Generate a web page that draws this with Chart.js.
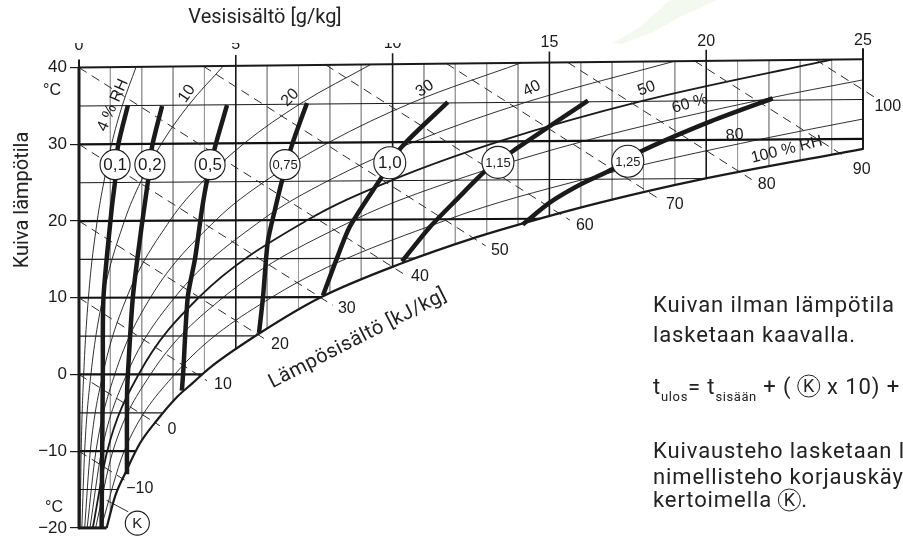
<!DOCTYPE html>
<html lang="fi">
<head>
<meta charset="utf-8">
<title>Kuivausteho</title>
<script src="https://cdn.jsdelivr.net/npm/chart.js@4.4.1/dist/chart.umd.min.js"></script>
<style>
  html, body { margin: 0; padding: 0; background: #fff; }
  #wrap { position: relative; width: 903px; height: 545px; }
</style>
</head>
<body>
<div id="wrap"><canvas id="mollier" width="903" height="545"></canvas></div>
<script>
// --- luettu kuvasta: vesisisältö x [g/kg], lämpötila y [°C] ---
const xTicks = [0, 5, 10, 15, 20, 25];
const yTicks = [-20, -10, 0, 10, 20, 30, 40];

// kyllästyskäyrä (100 % RH)
const satX = [0.88, 1.15, 1.47, 1.94, 2.48, 3.11, 3.63, 4.18, 5.77, 7.68, 10.23, 12.68, 14.16, 16.61, 19.8, 25];
const satY = [-20, -15.9, -12.9, -9.0, -6.0, -3.0, -1.1, 0.9, 5.4, 10.0, 14.4, 17.9, 19.7, 22.4, 25.4, 29.4];

// reunat
const topEdgeX = [0, 25];
const topEdgeY = [40, 41.1];
const rightEdgeY = [41.1, 29.4];

// pystyviivat 1 g/kg välein: yläpää ja alapää
const gridX = [1, 2, 3, 4, 5, 6, 7, 8, 9, 10, 11, 12, 13, 14, 15, 16, 17, 18, 19, 20, 21, 22, 23, 24];
const gridTop = [40.04, 40.09, 40.13, 40.18, 40.22, 40.26, 40.31, 40.35, 40.4, 40.44, 40.48, 40.53,
                 40.57, 40.62, 40.66, 40.7, 40.75, 40.79, 40.84, 40.88, 40.92, 40.97, 41.01, 41.06];
const gridBottom = [-18.2, -8.6, -3.5, 0.3, 3.3, 6.0, 8.5, 10.7, 12.3, 14.0, 15.5, 17.0,
                    18.3, 19.5, 20.6, 21.7, 22.8, 23.8, 24.7, 25.55, 26.4, 27.2, 27.9, 28.65];

// isotermit
const isoT = [-15, -10, -5, 0, 5, 10, 15, 20, 25, 30, 35];
const isoEndX = [1.25, 1.82, 2.69, 3.93, 5.64, 7.73, 10.75, 14.7, 20.0, 25, 25];
const isoEndY = [-15, -10, -5, 0, 5.03, 10.08, 15.17, 20.3, 25.55, 30.7, 35.85];

// suhteellinen kosteus
const rhLevels = [4, 10, 20, 30, 40, 50, 60, 80];
const rhX = [
  [0.035, 0.07, 0.15, 0.30, 0.58, 0.79, 1.04, 1.38, 1.82],
  [0.09, 0.18, 0.38, 0.76, 1.45, 1.96, 2.63, 3.5, 4.6],
  [0.18, 0.36, 0.76, 1.52, 2.9, 3.93, 5.28, 7.05, 9.3],
  [0.26, 0.54, 1.14, 2.28, 4.36, 5.92, 7.97, 10.6, 14.1],
  [0.35, 0.72, 1.52, 3.05, 5.83, 7.93, 10.7, 14.3, 19.0],
  [0.44, 0.9, 1.9, 3.82, 7.3, 9.95, 13.45, 18.0, 24.0],
  [0.53, 1.08, 2.28, 4.6, 8.8, 12.0, 16.2, 21.8, 25],
  [0.7, 1.44, 3.05, 6.15, 11.8, 16.1, 21.8, 25]
];
const rhY = [
  [-20, -10, 0, 10, 20, 25.02, 30.03, 35.05, 40.08],
  [-20, -10, 0, 10, 20.03, 25.05, 30.09, 35.13, 40.2],
  [-20, -10, 0, 10.02, 20.06, 25.1, 30.17, 35.27, 40.4],
  [-20, -10, 0, 10.03, 20.1, 25.16, 30.26, 35.4, 40.62],
  [-20, -10, 0, 10.03, 20.13, 25.22, 30.35, 35.55, 40.84],
  [-20, -10, 0, 10.04, 20.16, 25.27, 30.44, 35.7, 41.05],
  [-20, -10, 0, 10.05, 20.2, 25.33, 30.53, 35.84, 38.4],
  [-20, -10, 0, 10.07, 20.26, 25.44, 30.72, 33.3]
];
const rhNames = ['4 % RH', '10', '20', '30', '40', '50', '60 %', '80', '100 % RH'];

// entalpia [kJ/kg]
const hVals = [-10, 0, 10, 20, 30, 40, 50, 60, 70, 80, 90, 100];
const hStartX = [0, 0, 0, 0, 0, 0, 3.97, 7.87, 11.72, 15.58, 19.63, 23.49];
const hStartY = [-10, 0, 10, 20, 30, 40, 40.17, 40.35, 40.52, 40.69, 40.86, 41.03];
const hEndX = [1.47, 2.58, 4.08, 5.93, 8.1, 10.39, 12.97, 15.65, 18.52, 21.45, 24.48, 25.37];
const hEndY = [-13.8, -6.69, -0.81, 4.61, 9.0, 13.0, 16.76, 20.12, 22.83, 25.41, 28.26, 36.14];

// korjauskerroin K
const kNames = ['0,1', '0,2', '0,5', '0,75', '1,0', '1,15', '1,25'];
const kX = [
  [0.72, 0.76, 0.78, 1.04, 1.15, 1.24, 1.56],
  [1.53, 1.53, 1.56, 1.72, 2.01, 2.2, 2.33, 2.65],
  [3.28, 3.32, 3.47, 3.7, 3.92, 4.08, 4.34, 4.72],
  [5.74, 5.87, 6.02, 6.25, 6.47, 6.79, 7.27],
  [7.78, 8.22, 8.64, 9.6, 10.3, 11.76],
  [10.3, 11.19, 12.05, 12.94, 13.9, 16.23],
  [14.15, 15.01, 15.97, 17.02, 17.88, 20.02, 22.12]
];
const kY = [
  [-20, 0, 10, 21.5, 25.2, 29.7, 35.1],
  [-13, -3, 0.1, 10.2, 19.7, 25.2, 29.7, 35.0],
  [-2.1, 0.1, 10.15, 15.1, 21.5, 25.2, 29.7, 35.1],
  [5.4, 10.2, 17.3, 21.5, 25.2, 29.9, 35.4],
  [10.3, 15.1, 19.3, 25.4, 29.7, 35.5],
  [14.73, 19.21, 22.83, 26.45, 29.3, 35.7],
  [19.55, 22.39, 24.72, 26.79, 29.0, 32.8, 36.0]
];
const kCircleX = [1.15, 2.26, 4.18, 6.57, 9.91, 13.36, 17.5];
const kCircleY = [27.35, 27.35, 27.35, 27.35, 27.6, 27.65, 27.8];

// --- tekstien sijoittelu ---
const rhLabelPos = [
  [1.08, 35.1, -66], [3.44, 36.6, -55], [6.73, 36.1, -45], [11.03, 37.26, -33],
  [14.44, 37.26, -27], [18.1, 37.26, -20], [19.48, 35.3, -16], [20.91, 31.2, -6], [22.57, 29.3, -14]
];
const hLabelPos = [
  [1.94, -14.9], [2.96, -7.15], [4.59, -1.33], [6.41, 3.84], [8.54, 8.6], [10.87, 12.75],
  [13.42, 16.11], [16.13, 19.47], [19.0, 22.18], [21.93, 24.77], [24.96, 26.7], [25.79, 34.98]
];
const legendK = { x: 1.86, y: -19.38 };
const legendLead = [[0.88, -16.4], [1.57, -17.9]];

const fmt = v => (v < 0 ? '\u2212' + Math.abs(v) : String(v));
const pts = (xs, ys) => xs.map((x, i) => ({ x: x, y: ys[i] }));

function line(data, o) {
  return Object.assign({
    data: data, showLine: true, pointRadius: 0, pointHoverRadius: 0,
    borderColor: '#1a1a1a', borderWidth: 1, tension: 0, fill: false, clip: false,
    borderCapStyle: 'butt', borderJoinStyle: 'round'
  }, o);
}

var datasets = [];

// pystyruudukko
var minor = [], major = [];
gridX.forEach(function (x, i) {
  var seg = x % 5 === 0 ? major : minor;
  seg.push({ x: x, y: gridTop[i] }, { x: x, y: gridBottom[i] }, { x: x, y: null });
});
datasets.push(line(minor, { borderColor: '#9c9c9c', borderWidth: 1, order: 70 }));
datasets.push(line(major, { borderColor: '#1a1a1a', borderWidth: 1.6, order: 69 }));

// isotermit
var isoThin = [], isoThick = [];
isoT.forEach(function (t, i) {
  var seg = t % 10 === 0 ? isoThick : isoThin;
  seg.push({ x: 0, y: t }, { x: isoEndX[i], y: isoEndY[i] }, { x: 0, y: null });
});
datasets.push(line(isoThin, { borderColor: '#1a1a1a', borderWidth: 1.1, order: 60 }));
datasets.push(line(isoThick, { borderColor: '#111', borderWidth: 2.2, order: 59 }));

// RH-käyrät
rhLevels.forEach(function (r, i) {
  datasets.push(line(pts(rhX[i], rhY[i]), {
    borderWidth: r === 50 ? 1.8 : 0.9, cubicInterpolationMode: 'monotone', order: 50
  }));
});

// entalpiaviivat
hVals.forEach(function (h, i) {
  datasets.push(line([{ x: hStartX[i], y: hStartY[i] }, { x: hEndX[i], y: hEndY[i] }], {
    borderColor: '#2a2a2a', borderWidth: 1, borderDash: [9, 6], order: 40
  }));
});

// reunat
datasets.push(line(pts(topEdgeX, topEdgeY), { borderWidth: 2, order: 30 }));
datasets.push(line([{ x: 25, y: rightEdgeY[0] }, { x: 25, y: rightEdgeY[1] }], { borderWidth: 2, order: 30 }));
datasets.push(line(pts(satX, satY), { borderWidth: 2.2, cubicInterpolationMode: 'monotone', order: 30 }));
datasets.push(line([{ x: 0, y: 40 }, { x: 0, y: -20 }], { borderWidth: 3, order: 30 }));
datasets.push(line([{ x: 0, y: -20 }, { x: satX[0], y: -20 }], { borderWidth: 3, order: 30 }));
datasets.push(line(legendLead.map(p => ({ x: p[0], y: p[1] })), { borderWidth: 0.9, order: 30 }));

// K-käyrät
kNames.forEach(function (n, i) {
  datasets.push(line(pts(kX[i], kY[i]), { borderWidth: 4.5, tension: 0.25, order: 20 }));
});

// ympyrät
var circles = pts(kCircleX, kCircleY).concat([{ x: legendK.x, y: legendK.y }]);
datasets.push({
  data: circles, showLine: false, clip: false, order: 0,
  pointRadius: [15, 15, 15, 15, 16, 16, 16, 12],
  pointHoverRadius: [15, 15, 15, 15, 16, 16, 16, 12],
  pointBackgroundColor: '#fff', pointBorderColor: '#1a1a1a', pointBorderWidth: 1.1
});

function circleK(ctx, cx, cy, r) {
  ctx.save();
  ctx.letterSpacing = '0px';
  ctx.beginPath();
  ctx.arc(cx, cy, r, 0, Math.PI * 2);
  ctx.lineWidth = 1;
  ctx.strokeStyle = '#222';
  ctx.stroke();
  ctx.textAlign = 'center';
  ctx.textBaseline = 'middle';
  ctx.font = '18px Roboto';
  ctx.fillText('K', cx, cy + 1);
  ctx.restore();
}

const textPlugin = {
  id: 'chartText',
  beforeDraw(chart) {
    const ctx = chart.ctx;
    ctx.save();
    ctx.fillStyle = 'rgba(160, 205, 120, 0.13)';
    ctx.beginPath();
    ctx.moveTo(613, 43); ctx.lineTo(640, 27); ctx.lineTo(670, 0); ctx.lineTo(717, 0);
    ctx.lineTo(680, 17); ctx.lineTo(653, 32); ctx.lineTo(622, 44);
    ctx.closePath();
    ctx.fill();
    ctx.restore();
  },
  afterDraw(chart) {
    const ctx = chart.ctx, xs = chart.scales.x, ys = chart.scales.y;
    const X = v => xs.getPixelForValue(v), Y = v => ys.getPixelForValue(v);
    const topAt = x => topEdgeY[0] + (topEdgeY[1] - topEdgeY[0]) * x / topEdgeX[1];
    ctx.save();
    ctx.fillStyle = '#1a1a1a';
    ctx.strokeStyle = '#1a1a1a';

    // x-akselin merkit ja numerot
    xTicks.forEach(function (v) {
      const px = X(v), py = Y(topAt(v));
      ctx.beginPath();
      ctx.lineWidth = v === 0 || v === 25 ? 2 : 1.6;
      ctx.moveTo(px, py);
      ctx.lineTo(px, py - (v === 0 ? 8 : 11));
      ctx.stroke();
      ctx.save();
      if (v <= 10) { ctx.beginPath(); ctx.rect(0, 43, 470, 40); ctx.clip(); }
      ctx.font = '16px "Liberation Sans", Arial';
      ctx.textAlign = 'center';
      ctx.textBaseline = 'middle';
      ctx.fillText(String(v), px, py - 22 + 0.15 * v);
      ctx.restore();
    });

    // otsikot
    ctx.font = '20px Roboto';
    ctx.textAlign = 'center';
    ctx.textBaseline = 'middle';
    ctx.fillStyle = '#222';
    ctx.fillText('Vesisisältö [g/kg]', 265, 18);
    ctx.save();
    ctx.translate(23, 200);
    ctx.rotate(-Math.PI / 2);
    ctx.fillText('Kuiva lämpötila', 0, 0);
    ctx.restore();
    ctx.save();
    ctx.letterSpacing = '0.5px';
    ctx.translate(358, 339);
    ctx.rotate(-27 * Math.PI / 180);
    ctx.fillText('Lämpösisältö [kJ/kg]', 0, 0);
    ctx.restore();

    ctx.fillStyle = '#1a1a1a';
    ctx.font = '16px "Liberation Sans", Arial';
    ctx.fillText('°C', 52, 91);
    ctx.fillText('°C', 54, 508);

    // entalpia-arvot
    hVals.forEach(function (h, i) {
      ctx.fillText(fmt(h), X(hLabelPos[i][0]), Y(hLabelPos[i][1]));
    });

    // RH-tekstit
    rhNames.forEach(function (n, i) {
      const p = rhLabelPos[i];
      ctx.save();
      ctx.translate(X(p[0]), Y(p[1]));
      ctx.rotate(p[2] * Math.PI / 180);
      ctx.fillText(n, 0, 0);
      ctx.restore();
    });

    // K-arvot ympyröissä
    kNames.forEach(function (n, i) {
      ctx.font = (n.length > 3 ? '13px' : '17px') + ' "Liberation Sans", Arial';
      ctx.fillText(n, X(kCircleX[i]), Y(kCircleY[i]) + 1);
    });
    ctx.font = '15px "Liberation Sans", Arial';
    ctx.fillText('K', X(legendK.x), Y(legendK.y) + 1);

    // selitysteksti
    ctx.fillStyle = '#222';
    ctx.textAlign = 'left';
    ctx.textBaseline = 'alphabetic';
    ctx.font = '22px Roboto';
    ctx.letterSpacing = '0.9px';
    ctx.fillText('Kuivan ilman lämpötila', 653, 312);
    ctx.fillText('lasketaan kaavalla.', 653, 342);
    ctx.fillText('Kuivausteho lasketaan l', 653, 458);
    ctx.fillText('nimellisteho korjauskäy', 653, 484);
    ctx.fillText('kertoimella', 653, 507);
    var kx = 653 + ctx.measureText('kertoimella ').width;
    circleK(ctx, kx + 11, 500, 11);
    ctx.fillText('.', kx + 23, 507);

    // kaava
    var fx = 653, base = 394;
    const part = function (txt, size, dy, sp) {
      ctx.font = size + 'px Roboto';
      ctx.letterSpacing = sp;
      ctx.fillText(txt, fx, base + dy);
      fx += ctx.measureText(txt).width;
    };
    part('t', 22, 0, '0.9px');
    part('ulos', 13, 7, '0.6px');
    part('= t', 22, 0, '0.9px');
    part('sisään', 13, 7, '0.6px');
    part(' + ( ', 22, 0, '0.9px');
    circleK(ctx, fx + 11, base - 8, 11);
    fx += 23;
    part(' x 10) +', 22, 0, '0.9px');

    ctx.restore();
  }
};

Chart.defaults.font.family = '"Liberation Sans", Arial, sans-serif';
Chart.defaults.color = '#1a1a1a';

new Chart(document.getElementById('mollier'), {
  type: 'scatter',
  data: { datasets: datasets },
  options: {
    responsive: false,
    animation: false,
    devicePixelRatio: 1,
    events: [],
    layout: { padding: { top: 56.1, right: 40, bottom: 12.9, left: 0 } },
    plugins: { legend: { display: false }, tooltip: { enabled: false } },
    scales: {
      x: { type: 'linear', min: 0, max: 25, display: false },
      y: {
        type: 'linear', min: -20, max: 41.5, position: 'left',
        afterBuildTicks: function (s) { s.ticks = yTicks.map(v => ({ value: v })); },
        afterFit: function (s) { s.width = 79; },
        border: { display: false },
        grid: { drawOnChartArea: false, drawTicks: true, tickLength: 9, color: '#1a1a1a', lineWidth: 1.2 },
        ticks: { autoSkip: false, padding: 3, font: { size: 17 }, color: '#1a1a1a', callback: v => fmt(v) }
      }
    }
  },
  plugins: [textPlugin]
});
</script>
</body>
</html>
